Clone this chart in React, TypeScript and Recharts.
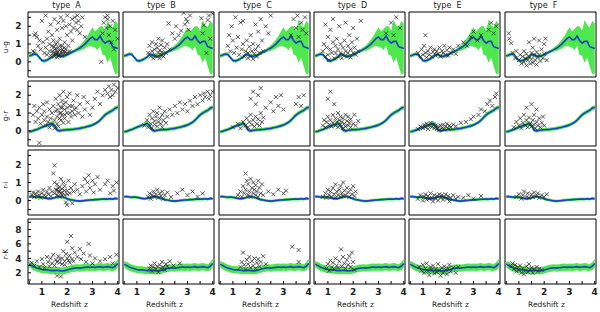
import React from "react";
import { ComposedChart, Area, Line, Scatter, XAxis, YAxis } from "recharts";

// ---- data ----
const TYPES = ["A", "B", "C", "D", "E", "F"];
const COLOR_NAMES = ["u-g", "g-r", "r-i", "r-K"];

const Z_GRID = [0.5, 0.6, 0.7, 0.8, 0.9, 1.0, 1.1, 1.2, 1.3, 1.4, 1.5, 1.6, 1.7, 1.8, 1.9, 2.0, 2.1, 2.2,
  2.3, 2.4, 2.5, 2.6, 2.7, 2.8, 2.9, 3.0, 3.1, 3.2, 3.3, 3.4, 3.5, 3.6, 3.7, 3.8, 3.9, 4.0];

// median colour track (blue) and its spread (green band)
const UG_MED = [0.33, 0.38, 0.44, 0.42, 0.25, 0.08, 0.05, 0.1, 0.18, 0.26, 0.42, 0.4, 0.32, 0.3, 0.34, 0.4, 0.48, 0.55,
  0.62, 0.7, 0.78, 0.88, 1.0, 1.15, 1.3, 1.4, 1.25, 1.25, 1.45, 1.2, 1.05, 1.15, 1.15, 0.85, 0.8, 0.75];
const UG_SPREAD = [0.1, 0.1, 0.1, 0.1, 0.1, 0.1, 0.1, 0.1, 0.1, 0.1, 0.1, 0.1, 0.1, 0.1, 0.1, 0.1, 0.1, 0.1,
  0.1, 0.12, 0.15, 0.2, 0.25, 0.3, 0.4, 0.55, 0.45, 0.6, 0.55, 0.8, 0.7, 1.2, 0.9, 1.1, 1.5, 1.4];
const GR_MED = [-0.05, -0.02, 0.03, 0.08, 0.14, 0.2, 0.26, 0.32, 0.36, 0.42, 0.3, 0.05, 0.0, 0.03, 0.05, 0.06, 0.07, 0.08,
  0.1, 0.12, 0.14, 0.17, 0.2, 0.24, 0.28, 0.33, 0.4, 0.48, 0.6, 0.75, 0.9, 1.0, 1.08, 1.15, 1.27, 1.32];
const GR_SPREAD = [0.1, 0.1, 0.1, 0.1, 0.1, 0.1, 0.1, 0.1, 0.12, 0.14, 0.16, 0.12, 0.1, 0.1, 0.1, 0.1, 0.1, 0.1,
  0.1, 0.1, 0.1, 0.1, 0.1, 0.1, 0.1, 0.1, 0.1, 0.1, 0.12, 0.12, 0.12, 0.12, 0.12, 0.12, 0.12, 0.12];
const RI_MED = [0.22, 0.22, 0.2, 0.18, 0.2, 0.18, 0.15, 0.12, 0.1, 0.12, 0.15, 0.2, 0.22, 0.2, 0.15, 0.1, 0.05, 0.03,
  0.0, -0.02, -0.03, -0.02, 0.0, 0.02, 0.03, 0.04, 0.05, 0.06, 0.07, 0.08, 0.09, 0.08, 0.1, 0.08, 0.12, 0.1];
const RI_SPREAD = [0.08, 0.08, 0.08, 0.08, 0.08, 0.08, 0.08, 0.08, 0.08, 0.08, 0.08, 0.08, 0.08, 0.08, 0.08, 0.08, 0.08, 0.08,
  0.08, 0.08, 0.08, 0.08, 0.08, 0.08, 0.08, 0.08, 0.08, 0.08, 0.08, 0.08, 0.08, 0.08, 0.08, 0.08, 0.08, 0.08];
const RK_MED = [3.2, 3.0, 2.8, 2.65, 2.55, 2.45, 2.4, 2.4, 2.35, 2.3, 2.3, 2.35, 2.3, 2.25, 2.3, 2.4, 2.5, 2.6,
  2.65, 2.7, 2.65, 2.7, 2.75, 2.8, 2.75, 2.8, 2.75, 2.8, 2.85, 2.75, 2.8, 2.85, 2.8, 2.7, 2.9, 3.3];
const RK_SPREAD = [0.45, 0.5, 0.5, 0.5, 0.5, 0.5, 0.5, 0.5, 0.5, 0.5, 0.5, 0.5, 0.5, 0.5, 0.5, 0.5, 0.5, 0.5,
  0.5, 0.5, 0.5, 0.5, 0.5, 0.5, 0.5, 0.5, 0.5, 0.5, 0.5, 0.5, 0.5, 0.5, 0.5, 0.5, 0.55, 0.6];

// individual objects: [z, colour]
const A_UG = [[0.65, 0.6], [0.7, 1.5], [0.75, 1.6], [0.8, 1.4], [0.7, 0.55], [0.85, 0.9], [0.9, 1.2], [0.95, 0.7],
  [1.0, 2.3], [1.05, 1.1], [1.1, 0.5], [1.15, 2.6], [1.15, 0.8], [1.2, 1.3], [1.2, 0.4], [1.25, 1.7], [1.3, 0.6], [1.3, 1.0],
  [1.35, 2.1], [1.35, 0.35], [1.4, 0.9], [1.4, 1.5], [1.45, 0.5], [1.45, 1.2], [1.5, 2.4], [1.5, 0.7], [1.5, 0.3],
  [1.55, 1.0], [1.55, 0.45], [1.6, 1.8], [1.6, 0.6], [1.6, 0.25], [1.65, 0.8], [1.65, 2.2], [1.7, 0.4], [1.7, 1.3],
  [1.75, 0.55], [1.75, 2.5], [1.8, 0.9], [1.8, 0.35], [1.8, 1.9], [1.85, 0.6], [1.85, 2.3], [1.9, 0.45], [1.9, 1.1],
  [1.95, 0.7], [1.95, 2.0], [2.0, 0.5], [2.0, 1.5], [2.0, 2.6], [2.05, 0.9], [2.1, 2.1], [2.1, 0.6], [2.15, 1.7],
  [2.2, 2.4], [2.2, 1.2], [2.25, 1.9], [2.3, 2.5], [2.35, 2.2], [2.4, 1.8], [2.4, 2.6], [2.45, 2.3], [2.5, 1.6],
  [2.55, 2.0], [2.6, 2.5], [2.7, 1.4], [3.35, 0.0], [3.4, 1.6], [3.45, 2.2], [3.5, 2.5], [3.55, 1.9], [3.6, 2.6],
  [3.6, 2.4], [3.65, 1.5], [3.7, 2.0], [3.75, 1.1], [3.8, 2.3], [3.85, 0.7], [3.9, 1.8], [4.0, 1.3],
  [1.55, 0.75], [1.6, 0.5], [1.65, 0.35], [1.7, 0.65], [1.72, 0.9], [1.78, 0.45], [1.82, 0.7], [1.88, 0.8],
  [1.62, 1.1], [1.48, 0.85], [1.42, 0.6], [1.92, 0.55], [1.58, 0.4]];
const A_GR = [[0.65, 0.9], [0.7, 1.4], [0.75, 0.5], [0.8, 1.1], [0.85, 0.7], [0.9, -0.68], [0.9, 1.3], [0.95, 0.4],
  [1.0, 0.9], [1.05, 1.5], [1.1, 0.6], [1.1, 1.1], [1.15, 0.3], [1.2, 0.8], [1.2, 1.6], [1.25, 0.5], [1.3, 1.2], [1.3, 0.2],
  [1.35, 0.7], [1.4, 1.0], [1.4, 0.35], [1.45, 1.4], [1.5, 0.6], [1.5, 0.15], [1.55, 1.1], [1.55, 1.8], [1.6, 0.4],
  [1.6, 0.8], [1.65, 1.5], [1.65, 0.25], [1.7, 1.0], [1.7, 2.0], [1.75, 0.6], [1.75, 1.3], [1.8, 0.9], [1.8, 1.7],
  [1.85, 0.45], [1.85, 2.2], [1.9, 1.2], [1.9, 0.7], [1.95, 1.6], [2.0, 1.0], [2.0, 1.9], [2.05, 0.5], [2.1, 1.4],
  [2.1, 2.1], [2.15, 0.8], [2.2, 1.1], [2.25, 1.7], [2.3, 0.9], [2.35, 1.3], [2.4, 2.0], [2.45, 1.0], [2.5, 1.5],
  [2.6, 0.8], [2.65, 1.9], [2.7, 1.2], [2.8, 1.6], [2.9, 0.9], [3.0, 1.3], [3.1, 1.8], [3.2, 2.2], [3.3, 1.5],
  [3.4, 2.0], [3.5, 2.3], [3.6, 2.1], [3.65, 2.5], [3.7, 1.9], [3.75, 2.3], [3.8, 2.0], [3.85, 2.6], [3.9, 2.2], [4.0, 2.4],
  [1.6, 1.2], [1.7, 0.7], [1.8, 1.3], [1.9, 0.9], [2.0, 1.3], [2.1, 1.0], [1.75, 1.0], [1.85, 1.5], [2.2, 1.4], [2.3, 1.2]];
const A_RI = [[0.6, 0.3], [0.65, 0.45], [0.7, 0.2], [0.75, 0.4], [0.8, 0.25], [0.85, 0.5], [0.9, 0.3], [0.95, 0.15],
  [1.0, 0.4], [1.05, 0.6], [1.1, 0.3], [1.15, 0.2], [1.2, 0.5], [1.25, 0.35], [1.3, 0.7], [1.35, 0.25], [1.4, 0.5],
  [1.45, 1.5], [1.5, 1.95], [1.5, 1.0], [1.5, 0.4], [1.55, 0.6], [1.6, 0.3], [1.6, 0.9], [1.65, 0.5], [1.7, 0.75],
  [1.7, 0.2], [1.75, 1.2], [1.8, 0.45], [1.8, 0.65], [1.85, 1.0], [1.9, 0.3], [1.9, 0.8], [1.95, -0.1], [2.0, -0.25],
  [2.0, 0.55], [2.05, 1.1], [2.1, 0.4], [2.15, 0.7], [2.2, -0.15], [2.25, 0.5], [2.3, 0.9], [2.4, 0.6], [2.5, 0.35],
  [2.6, 0.8], [2.7, 1.2], [2.75, 0.5], [2.8, 1.0], [2.85, 1.4], [2.9, 0.7], [3.0, 1.1], [3.05, 0.45], [3.1, 0.9],
  [3.2, 1.3], [3.3, 0.6], [3.5, 0.9], [3.6, 1.1], [3.7, 0.4], [3.8, 0.8], [3.85, 0.55], [3.95, 1.0],
  [1.6, 0.6], [1.7, 0.5], [1.8, 0.3], [1.9, 0.55], [2.0, 0.35], [1.65, 0.7], [1.75, 0.4]];
const A_RK = [[0.6, 3.4], [0.7, 3.0], [0.8, 3.6], [0.9, 2.8], [1.0, 3.9], [1.05, 3.2], [1.1, 2.7], [1.2, 4.2],
  [1.25, 3.5], [1.3, 2.9], [1.35, 4.0], [1.4, 3.3], [1.45, 4.5], [1.5, 3.0], [1.55, 3.8], [1.6, 1.6], [1.65, 4.3],
  [1.7, 3.4], [1.75, 1.5], [1.8, 4.0], [1.85, 5.0], [1.9, 3.1], [1.95, 4.6], [2.0, 6.3], [2.05, 3.7], [2.1, 4.4],
  [2.15, 7.1], [2.2, 5.4], [2.25, 3.6], [2.3, 4.8], [2.4, 4.2], [2.5, 5.3], [2.55, 3.9], [2.65, 4.7], [2.75, 3.5],
  [2.85, 6.0], [2.9, 4.4], [3.0, 3.3], [3.1, 4.0], [3.3, 3.6], [3.5, 3.9], [3.7, 4.2], [3.8, 3.3], [3.95, 4.5],
  [1.6, 3.5], [1.7, 3.9], [1.8, 3.2], [1.9, 3.6], [2.0, 4.0], [2.1, 3.4], [2.2, 3.9]];

const B_UG = [[1.45, 0.5], [1.5, 0.9], [1.55, 0.3], [1.6, 0.6], [1.6, 1.1], [1.65, 0.2], [1.7, 0.7], [1.7, 0.4],
  [1.75, 1.0], [1.8, 0.3], [1.8, 0.8], [1.85, 0.5], [1.85, 1.3], [1.9, 0.2], [1.9, 0.65], [1.95, 0.4], [1.95, 0.95],
  [2.0, 0.55], [2.0, 1.2], [2.05, 0.3], [2.1, 0.8], [2.15, 0.5], [2.2, 1.0], [2.25, 2.15], [2.3, 0.7], [2.4, 1.6],
  [2.5, 1.3], [2.55, 2.0], [2.65, 1.5], [2.75, 1.75], [2.85, 2.75], [2.9, 2.1], [2.95, 2.4], [3.0, 2.25], [3.05, 1.8],
  [3.1, 2.6], [3.15, 2.9], [3.55, 2.45], [3.6, 1.6], [3.65, 2.05], [3.75, 0.5], [3.8, 2.35], [3.85, 2.6], [3.9, 1.3], [4.0, 2.7]];
const B_GR = [[1.3, 0.3], [1.4, 0.6], [1.45, 0.2], [1.5, 0.9], [1.55, 0.4], [1.6, 0.15], [1.6, 0.7], [1.65, 1.1],
  [1.7, 0.35], [1.7, 0.55], [1.75, 0.8], [1.8, 0.25], [1.8, 1.0], [1.85, 0.5], [1.9, 0.7], [1.9, 1.3], [1.95, 0.4],
  [2.0, 0.9], [2.0, 0.2], [2.05, 0.6], [2.1, 1.1], [2.15, 0.45], [2.2, 0.8], [2.3, 1.2], [2.4, 0.9], [2.5, 1.4],
  [2.6, 1.0], [2.7, 1.6], [2.8, 1.2], [2.9, 1.5], [3.0, 1.1], [3.1, 1.7], [3.2, 1.4], [3.3, 1.9], [3.4, 1.5],
  [3.5, 2.0], [3.6, 1.7], [3.65, 2.1], [3.7, 1.9], [3.8, 2.2], [3.85, 1.8], [3.9, 2.0], [4.0, 2.2]];
const B_RI = [[1.45, 0.2], [1.5, 0.4], [1.55, 0.1], [1.6, 0.3], [1.65, 0.5], [1.7, 0.2], [1.75, 0.35], [1.8, 0.6],
  [1.85, 0.15], [1.9, 0.4], [1.95, 0.25], [2.0, 0.5], [2.05, 0.1], [2.1, 0.3], [2.2, 0.45], [2.35, 0.2], [2.6, 0.4],
  [2.8, 0.6], [3.0, 0.3], [3.2, 0.5], [3.4, 0.2], [3.6, 0.4]];
const B_RK = [[1.5, 2.6], [1.55, 3.0], [1.6, 2.2], [1.65, 2.8], [1.7, 3.3], [1.75, 2.5], [1.8, 2.9], [1.85, 2.1],
  [1.9, 3.1], [1.95, 2.6], [2.0, 3.5], [2.05, 2.8], [2.1, 2.4], [2.15, 3.2], [2.2, 2.9], [2.3, 3.6], [2.45, 3.0], [2.7, 3.3]];

const C_UG = [[0.8, 0.9], [0.85, 1.5], [0.9, 0.6], [0.95, 2.0], [1.0, 1.2], [1.05, 0.5], [1.1, 2.5], [1.15, 0.8],
  [1.2, 1.4], [1.25, 0.4], [1.3, 2.2], [1.35, 0.7], [1.4, 1.0], [1.4, 2.3], [1.45, 0.3], [1.5, 0.6], [1.55, 1.2],
  [1.6, 0.2], [1.6, 0.5], [1.65, 0.85], [1.7, 0.35], [1.7, 1.5], [1.75, 0.6], [1.8, 0.15], [1.8, 1.0], [1.85, 0.45],
  [1.9, 0.7], [1.9, 2.1], [1.95, 0.3], [2.0, 0.9], [2.0, 1.7], [2.05, 0.5], [2.1, 2.4], [2.15, 1.2], [2.2, 0.6],
  [2.3, 2.0], [2.4, 1.6], [2.5, 2.6], [3.3, 1.5], [3.4, 2.4], [3.5, 1.9], [3.55, 2.6], [3.6, 1.4], [3.7, 2.2],
  [3.75, 1.8], [3.85, 2.5], [3.9, 1.6]];
const C_GR = [[1.0, 0.2], [1.2, 0.4], [1.3, 0.15], [1.4, 0.5], [1.5, 0.3], [1.55, 0.7], [1.6, 0.2], [1.65, 0.5],
  [1.7, 0.9], [1.7, 1.8], [1.75, 0.35], [1.8, 0.6], [1.8, 2.2], [1.85, 0.25], [1.9, 0.8], [1.9, 1.5], [1.95, 0.4],
  [2.0, 0.65], [2.0, 2.0], [2.05, 0.3], [2.1, 1.0], [2.1, 2.4], [2.15, 0.5], [2.2, 0.75], [2.3, 1.3], [2.5, 1.6],
  [2.6, 1.1], [2.7, 1.9], [2.8, 1.4], [2.9, 2.0], [3.0, 1.2], [3.5, 1.5], [3.6, 1.9], [3.7, 1.4], [3.8, 2.0]];
const C_RI = [[1.2, 0.3], [1.3, 0.5], [1.35, 0.2], [1.4, 0.8], [1.45, 0.4], [1.5, 1.5], [1.5, 0.6], [1.55, 1.1],
  [1.6, 0.3], [1.6, 0.9], [1.65, 0.5], [1.7, 1.2], [1.7, 0.2], [1.75, 0.7], [1.8, 0.4], [1.8, 1.0], [1.85, 0.6],
  [1.9, 0.3], [1.9, 0.85], [1.95, 0.5], [2.0, 1.1], [2.0, 0.2], [2.05, 0.7], [2.1, 0.4], [2.15, 0.9], [2.2, 0.3],
  [2.4, 0.5], [2.6, 0.35], [2.8, 0.6], [3.0, 0.4], [3.1, 0.55]];
const C_RK = [[1.3, 2.8], [1.35, 3.5], [1.4, 4.8], [1.45, 3.1], [1.5, 2.5], [1.55, 3.8], [1.6, 3.2], [1.65, 4.2],
  [1.7, 2.7], [1.75, 3.6], [1.8, 3.0], [1.85, 4.0], [1.9, 2.6], [1.95, 3.4], [2.0, 3.9], [2.05, 2.9], [2.1, 3.5],
  [2.2, 4.3], [2.3, 3.2], [3.35, 5.6], [3.6, 5.15], [3.6, 3.5]];

const D_UG = [[0.8, 0.6], [0.85, 1.0], [0.9, 0.3], [0.9, 2.1], [0.95, 0.8], [1.0, 1.4], [1.0, 0.4], [1.05, 0.1],
  [1.1, 0.7], [1.1, 1.8], [1.15, 0.5], [1.2, 1.1], [1.2, 2.4], [1.25, 0.2], [1.3, 0.9], [1.3, 0.5], [1.35, 1.3],
  [1.4, 0.3], [1.4, 0.7], [1.45, 2.0], [1.5, 0.5], [1.5, 1.0], [1.55, 0.2], [1.6, 0.8], [1.6, 0.4], [1.65, 1.2],
  [1.7, 0.6], [1.7, 2.2], [1.75, 0.3], [1.8, 0.9], [1.8, 0.5], [1.85, 1.5], [1.9, 0.7], [1.9, 0.25], [1.95, 1.1],
  [2.0, 0.5], [2.0, 1.9], [2.05, 0.8], [2.1, 0.4], [2.15, 1.3], [2.2, 0.6], [2.3, 2.3], [3.3, 1.6], [3.5, 2.2],
  [3.6, 1.5], [3.7, 2.5], [3.85, 1.9]];
const D_GR = [[0.8, 0.3], [0.85, 0.6], [0.9, 0.2], [0.95, 0.5], [1.0, 0.8], [1.0, 1.8], [1.05, 0.35], [1.1, 0.6],
  [1.1, 2.2], [1.15, 0.25], [1.2, 0.9], [1.2, 0.45], [1.25, 1.5], [1.3, 0.3], [1.3, 0.7], [1.35, 0.5], [1.4, 0.2],
  [1.4, 1.0], [1.45, 0.6], [1.5, 0.35], [1.5, 0.8], [1.55, 0.5], [1.6, 0.15], [1.6, 0.7], [1.65, 0.4], [1.7, 0.9],
  [1.7, 0.25], [1.75, 0.55], [1.8, 0.3], [1.8, 0.8], [1.85, 0.45], [1.9, 0.2], [1.9, 0.65], [2.0, 0.4], [2.05, 0.9],
  [2.1, 0.3], [2.2, 0.55]];
const D_RI = [[0.8, 0.2], [0.9, 0.4], [0.95, 0.15], [1.0, 0.6], [1.05, 0.3], [1.1, 0.5], [1.15, 0.2], [1.2, 0.7],
  [1.25, 0.35], [1.3, 0.9], [1.3, 0.15], [1.35, 0.5], [1.4, 0.3], [1.45, 0.6], [1.5, 0.2], [1.5, 0.8], [1.55, 0.4],
  [1.6, 1.0], [1.6, 0.25], [1.65, 0.55], [1.7, 0.3], [1.75, 0.7], [1.8, 0.45], [1.85, 0.2], [1.9, 0.6], [1.95, 0.35],
  [2.0, 0.8], [2.05, 0.25], [2.1, 0.5]];
const D_RK = [[0.95, 2.6], [1.0, 3.2], [1.05, 2.3], [1.1, 3.7], [1.15, 2.8], [1.2, 3.4], [1.25, 2.5], [1.3, 4.0],
  [1.35, 3.0], [1.4, 2.7], [1.45, 3.6], [1.52, 5.25], [1.55, 2.9], [1.6, 4.2], [1.65, 3.3], [1.7, 2.6], [1.75, 3.8],
  [1.8, 3.1], [1.85, 4.3], [1.9, 2.8], [1.95, 4.8], [2.0, 3.5], [2.05, 2.4]];

const E_UG = [[0.8, 0.5], [0.9, 0.3], [0.95, 0.7], [1.0, 0.4], [1.05, 0.9], [1.1, 1.5], [1.1, 0.5], [1.15, 0.25],
  [1.2, 0.6], [1.25, 0.4], [1.3, 0.8], [1.35, 0.3], [1.4, 0.55], [1.45, 0.7], [1.5, 0.35], [1.55, 0.6], [1.6, 0.45],
  [1.65, 0.8], [1.7, 0.3], [1.75, 0.6], [1.8, 0.5], [1.85, 0.9], [1.9, 0.4], [1.95, 0.65], [2.0, 0.35], [2.05, 0.8],
  [2.1, 0.5], [2.2, 0.7], [2.3, 0.45], [2.4, 0.9], [2.6, 1.1], [2.75, 0.9], [2.9, 1.4], [3.0, 1.7], [3.15, 1.2],
  [3.3, 1.5], [3.6, 1.8], [3.7, 2.2], [3.8, 1.6], [3.9, 2.0]];
const E_GR = [[0.8, 0.1], [0.9, 0.25], [1.0, 0.15], [1.05, 0.35], [1.1, 0.2], [1.15, 0.4], [1.2, 0.1], [1.25, 0.3],
  [1.3, 0.45], [1.35, 0.2], [1.4, 0.35], [1.45, 0.15], [1.5, 0.3], [1.55, 0.1], [1.6, 0.25], [1.65, 0.05], [1.7, 0.3],
  [1.75, 0.15], [1.8, 0.35], [1.85, 0.1], [1.9, 0.25], [1.95, 0.4], [2.0, 0.15], [2.05, 0.3], [2.1, 0.2], [2.2, 0.35],
  [2.3, 0.25], [2.5, 0.45], [2.7, 0.5], [2.9, 0.65], [3.0, 0.8], [3.2, 0.9], [3.3, 1.2], [3.45, 1.1], [3.55, 1.5],
  [3.65, 1.7], [3.75, 1.4], [3.85, 1.9], [3.9, 2.1]];
const E_RI = [[0.8, 0.1], [0.9, 0.3], [1.0, 0.0], [1.05, 0.2], [1.1, 0.35], [1.15, 0.05], [1.2, 0.25], [1.25, 0.1],
  [1.3, 0.4], [1.35, 0.15], [1.4, -0.05], [1.45, 0.3], [1.5, 0.1], [1.55, 0.25], [1.6, 0.0], [1.65, 0.35], [1.7, 0.15],
  [1.75, 0.3], [1.8, 0.05], [1.85, 0.2], [1.9, 0.35], [1.95, 0.1], [2.0, 0.25], [2.05, -0.05], [2.1, 0.15], [2.2, 0.3],
  [2.3, 0.1], [2.4, 0.2], [2.6, 0.15], [2.8, 0.3], [3.0, 0.1], [3.3, 0.25]];
const E_RK = [[0.85, 2.8], [0.95, 2.3], [1.0, 3.1], [1.05, 2.0], [1.1, 2.6], [1.15, 3.3], [1.2, 2.2], [1.25, 1.7],
  [1.3, 2.8], [1.35, 2.4], [1.4, 3.0], [1.45, 1.9], [1.5, 2.5], [1.55, 2.1], [1.6, 3.2], [1.65, 2.3], [1.7, 1.6],
  [1.75, 2.7], [1.8, 2.0], [1.85, 2.9], [1.9, 2.4], [1.95, 1.8], [2.0, 2.6], [2.05, 3.1], [2.1, 2.2], [2.2, 2.7],
  [2.3, 2.0], [2.4, 2.8]];

const F_UG = [[0.6, 1.6], [0.62, 1.3], [0.7, 1.05], [0.75, 0.5], [0.85, 0.2], [0.9, 0.6], [1.0, 0.1], [1.05, 0.4],
  [1.1, -0.1], [1.15, 0.3], [1.2, 0.0], [1.2, 0.6], [1.25, 0.2], [1.3, -0.2], [1.3, 0.45], [1.35, 0.1], [1.4, 1.1],
  [1.4, 0.3], [1.45, -0.1], [1.5, 0.5], [1.5, 0.15], [1.55, 0.8], [1.55, -0.05], [1.6, 0.35], [1.6, 1.3], [1.65, 0.1],
  [1.7, 0.55], [1.7, -0.15], [1.75, 0.25], [1.8, 1.2], [1.8, 0.4], [1.85, 0.05], [1.9, 0.7], [1.95, 0.2], [2.0, 1.0],
  [2.0, 0.45], [2.05, 1.3], [2.1, 0.1]];
const F_GR = [[0.8, 0.2], [0.9, 0.5], [1.0, 0.3], [1.05, 0.7], [1.1, 0.15], [1.15, 0.45], [1.2, 0.9], [1.25, 0.3],
  [1.3, 0.6], [1.3, 1.3], [1.35, 0.2], [1.4, 0.75], [1.45, 0.4], [1.5, 1.5], [1.5, 0.25], [1.55, 0.6], [1.6, 0.35],
  [1.6, 0.9], [1.65, 0.15], [1.7, 1.2], [1.7, 0.5], [1.75, 0.3], [1.8, 0.7], [1.85, 0.2], [1.9, 0.45], [1.95, 0.8], [2.0, 0.3]];
const F_RI = [[0.9, 0.2], [1.0, 0.35], [1.1, 0.1], [1.15, 0.3], [1.2, 0.5], [1.3, 0.2], [1.35, 0.4], [1.4, 0.15],
  [1.5, 0.35], [1.55, 0.2], [1.6, 0.45], [1.7, 0.25], [1.75, 0.4], [1.8, 0.15], [1.9, 0.3], [2.0, 0.2], [2.1, 0.35]];
const F_RK = [[0.7, 2.9], [0.75, 3.3], [0.8, 2.5], [0.85, 3.1], [0.9, 2.2], [0.95, 2.8], [1.0, 2.4], [1.05, 3.0],
  [1.1, 2.0], [1.15, 2.6], [1.2, 1.8], [1.25, 2.3], [1.3, 2.9], [1.35, 2.1], [1.4, 3.2], [1.45, 2.4], [1.5, 2.7],
  [1.55, 2.0], [1.6, 2.5], [1.7, 2.8], [1.75, 2.2], [1.8, 2.6], [1.9, 2.4]];

const X_TICKS = [0.5, 1, 1.5, 2, 2.5, 3, 3.5, 4];
const Y_TICKS_COLOR = [-0.5, 0, 0.5, 1, 1.5, 2, 2.5];
const Y_TICKS_RK = [1, 2, 3, 4, 5, 6, 7, 8, 9];

// ---- layout ----
const PLOT_W = 91;
const PLOT_H = 65;
const COL_LEFT = [28, 123, 219, 314, 409, 505];
const ROW_TOP = [12, 81, 150, 219];
const X_DOMAIN = [0.45, 4.05];
const Y_DOMAINS = [[-0.85, 2.8], [-0.85, 2.8], [-0.8, 2.8], [0.45, 9.45]];
const FONT = "'DejaVu Sans', sans-serif";
const AXIS_LINE = { stroke: "#000", strokeWidth: 1 };

const curve = (med: number[], spread: number[]) =>
  Z_GRID.map((z, i) => ({ z, m: med[i], band: [med[i] - spread[i], med[i] + spread[i]] }));

const CURVES = [curve(UG_MED, UG_SPREAD), curve(GR_MED, GR_SPREAD), curve(RI_MED, RI_SPREAD), curve(RK_MED, RK_SPREAD)];
const POINTS = [
  [A_UG, B_UG, C_UG, D_UG, E_UG, F_UG],
  [A_GR, B_GR, C_GR, D_GR, E_GR, F_GR],
  [A_RI, B_RI, C_RI, D_RI, E_RI, F_RI],
  [A_RK, B_RK, C_RK, D_RK, E_RK, F_RK],
];

const Cross = (p: any) => {
  const { cx, cy } = p;
  if (cx == null || cy == null) return <g />;
  const s = 2;
  return (
    <path
      d={`M${cx - s},${cy - s}L${cx + s},${cy + s}M${cx - s},${cy + s}L${cx + s},${cy - s}`}
      stroke="#262626"
      strokeWidth={0.75}
      fill="none"
    />
  );
};

const xTick = (p: any) => {
  const v = p.payload.value;
  if (!Number.isInteger(v)) return <g />;
  return (
    <text x={p.x} y={p.y} dy="0.71em" textAnchor="middle" fontSize={9} fontWeight="bold" fontFamily={FONT} fill="#222">
      {v}
    </text>
  );
};

const yTick = (row: number) => (p: any) => {
  const v = p.payload.value;
  const show = row === 3 ? v % 2 === 0 : Number.isInteger(v);
  if (!show) return <g />;
  return (
    <text x={p.x} y={p.y} dy="0.355em" textAnchor="end" fontSize={9} fontWeight="bold" fontFamily={FONT} fill="#222">
      {v}
    </text>
  );
};

function Panel({ r, c }: { r: number; c: number }) {
  const first = c === 0;
  const last = r === 3;
  // hidden axes keep 1px so they still draw their line and ticks
  const yW = first ? 28 : 1;
  const mL = first ? 0 : 1;
  const xH = last ? 26 : 1;
  const mB = last ? 0 : 1;
  const width = mL + yW + PLOT_W + 2;
  const height = 2 + PLOT_H + xH + mB;
  const ticksY = r === 3 ? Y_TICKS_RK : Y_TICKS_COLOR;
  const pts = POINTS[r][c].map(([z, v]) => ({ z, v }));

  return (
    <div style={{ position: "absolute", left: COL_LEFT[c] - mL - yW, top: ROW_TOP[r] - 2 }}>
      <ComposedChart width={width} height={height} data={CURVES[r]} margin={{ top: 1, right: 1, bottom: mB, left: mL }}>
        <XAxis
          xAxisId="b"
          dataKey="z"
          type="number"
          domain={X_DOMAIN}
          ticks={X_TICKS}
          allowDataOverflow
          interval={0}
          height={xH}
          axisLine={AXIS_LINE}
          tickLine={AXIS_LINE}
          tickSize={-3}
          tickMargin={8}
          tick={last ? xTick : false}
        />
        <XAxis
          xAxisId="t"
          dataKey="z"
          orientation="top"
          type="number"
          domain={X_DOMAIN}
          ticks={X_TICKS}
          allowDataOverflow
          interval={0}
          height={1}
          axisLine={AXIS_LINE}
          tickLine={AXIS_LINE}
          tickSize={-3}
          tick={false}
        />
        <YAxis
          yAxisId="l"
          type="number"
          domain={Y_DOMAINS[r]}
          ticks={ticksY}
          allowDataOverflow
          interval={0}
          width={yW}
          axisLine={AXIS_LINE}
          tickLine={AXIS_LINE}
          tickSize={-3}
          tickMargin={9.5}
          tick={first ? yTick(r) : false}
        />
        <YAxis
          yAxisId="r"
          orientation="right"
          type="number"
          domain={Y_DOMAINS[r]}
          ticks={ticksY}
          allowDataOverflow
          interval={0}
          width={1}
          axisLine={AXIS_LINE}
          tickLine={AXIS_LINE}
          tickSize={-3}
          tick={false}
        />
        <Area
          xAxisId="b"
          yAxisId="l"
          dataKey="band"
          type="linear"
          fill="#4ee84e"
          fillOpacity={1}
          stroke="none"
          isAnimationActive={false}
        />
        <Line
          xAxisId="b"
          yAxisId="l"
          dataKey="m"
          type="linear"
          stroke="#1c3fc4"
          strokeWidth={1.6}
          dot={false}
          isAnimationActive={false}
        />
        <Scatter xAxisId="b" yAxisId="l" data={pts} dataKey="v" shape={Cross} isAnimationActive={false} />
      </ComposedChart>
    </div>
  );
}

export default function App() {
  return (
    <div style={{ position: "relative", width: 600, height: 312, background: "#fff", fontFamily: FONT, color: "#222" }}>
      <style>{"body{margin:0}"}</style>

      {/* column titles */}
      {TYPES.map((t, c) => (
        <div
          key={t}
          style={{
            position: "absolute",
            left: COL_LEFT[c] - 7,
            width: PLOT_W,
            top: 1,
            textAlign: "center",
            fontSize: 8,
            lineHeight: "10px",
            whiteSpace: "pre",
          }}
        >
          {`type  ${t}`}
        </div>
      ))}

      {/* row labels */}
      {COLOR_NAMES.map((n, r) => (
        <div
          key={n}
          style={{
            position: "absolute",
            left: 6 - 15,
            top: ROW_TOP[r] + PLOT_H / 2 + 2 - 5,
            width: 30,
            height: 10,
            lineHeight: "10px",
            textAlign: "center",
            fontSize: 7.5,
            transform: "rotate(-90deg)",
          }}
        >
          {n}
        </div>
      ))}

      {COLOR_NAMES.map((_, r) => TYPES.map((t, c) => <Panel key={`${r}-${t}`} r={r} c={c} />))}

      {/* x axis titles */}
      {TYPES.map((t, c) => (
        <div
          key={`x-${t}`}
          style={{
            position: "absolute",
            left: COL_LEFT[c] - 4,
            width: PLOT_W,
            top: 300,
            textAlign: "center",
            fontSize: 7.5,
            lineHeight: "10px",
          }}
        >
          Redshift z
        </div>
      ))}
    </div>
  );
}
